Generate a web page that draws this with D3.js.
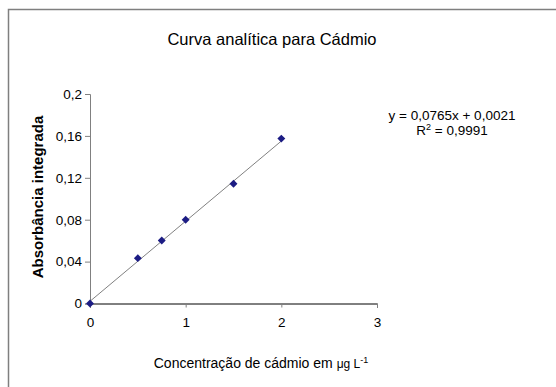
<!DOCTYPE html>
<html>
<head>
<meta charset="utf-8">
<script src="https://cdn.jsdelivr.net/npm/d3@7"></script>
<style>
  html, body { margin: 0; padding: 0; background: #fff; }
  svg { display: block; font-family: "Liberation Sans", Arial, sans-serif; }
</style>
</head>
<body>
<svg id="chart" width="556" height="387"></svg>
<script>
// Calibration data for cadmium
const concentrations = [0, 0.5, 0.75, 1, 1.5, 2];
const absorbances = [0, 0.0433, 0.0601, 0.0799, 0.1144, 0.1574];
const xTicks = [0, 1, 2, 3];
const yTicks = [0, 0.04, 0.08, 0.12, 0.16, 0.2];
const fitSlope = 0.0765;
const fitIntercept = 0.0021;
const fitLabel = "y = 0,0765x + 0,0021";
const r2Value = "0,9991";

const svg = d3.select("#chart");
const W = 556, H = 387;

// Chart area frame
svg.append("rect")
  .attr("x", 8.5).attr("y", 9.5)
  .attr("width", W + 10).attr("height", H + 10)
  .attr("fill", "#fff")
  .attr("stroke", "#7f7f7f").attr("stroke-width", 1.5);

const x = d3.scaleLinear().domain([0, 3]).range([90, 377]);
const y = d3.scaleLinear().domain([0, 0.2]).range([303.5, 94]);

const fmt = d => d === 0 ? "0" : String(d).replace(".", ",");

// Y axis
const yAxis = svg.append("g")
  .attr("transform", "translate(90,0)")
  .call(d3.axisLeft(y).tickValues(yTicks).tickSize(5).tickPadding(3).tickFormat(fmt));
yAxis.select(".domain").attr("stroke", "#808080");
yAxis.selectAll(".tick line").attr("stroke", "#808080");
yAxis.selectAll("text").attr("font-size", 13.5).attr("fill", "#000")
  .attr("font-family", "Liberation Sans, Arial, sans-serif");

// X axis
const xAxis = svg.append("g")
  .attr("transform", "translate(0,303.5)")
  .call(d3.axisBottom(x).tickValues(xTicks).tickSize(4).tickPadding(10).tickFormat(fmt));
xAxis.select(".domain").attr("stroke", "#000");
xAxis.selectAll(".tick line").attr("stroke", "#808080");
xAxis.selectAll("text").attr("font-size", 13.5).attr("fill", "#000")
  .attr("font-family", "Liberation Sans, Arial, sans-serif");

// Linear trendline
const xMin = d3.min(concentrations), xMax = d3.max(concentrations);
svg.append("line")
  .attr("x1", x(xMin)).attr("y1", y(fitSlope * xMin + fitIntercept))
  .attr("x2", x(xMax)).attr("y2", y(fitSlope * xMax + fitIntercept))
  .attr("stroke", "#808080").attr("stroke-width", 1);

// Data markers (diamonds)
const diamond = d3.symbol().type(d3.symbolDiamond2).size(40);
svg.append("g").selectAll("path")
  .data(concentrations.map((c, i) => [c, absorbances[i]]))
  .join("path")
  .attr("d", diamond)
  .attr("transform", d => `translate(${x(d[0])},${y(d[1])})`)
  .attr("fill", "#1c1c84");

// Title
svg.append("text")
  .attr("x", 272).attr("y", 45)
  .attr("text-anchor", "middle")
  .attr("font-size", 16.5)
  .text("Curva analítica para Cádmio");

// Y axis title
svg.append("text")
  .attr("transform", "translate(43,197) rotate(-90)")
  .attr("text-anchor", "middle")
  .attr("font-size", 15).attr("font-weight", "bold")
  .text("Absorbância integrada");

// X axis title
const xt = svg.append("text")
  .attr("x", 261).attr("y", 368)
  .attr("text-anchor", "middle")
  .attr("font-size", 14);
xt.append("tspan").text("Concentração de cádmio em ");
xt.append("tspan").attr("font-size", 12).text("μg L");
xt.append("tspan").attr("font-size", 9).attr("dy", -5).text("-1");

// Regression equation
svg.append("text")
  .attr("x", 452).attr("y", 120)
  .attr("text-anchor", "middle")
  .attr("font-size", 13.5)
  .text(fitLabel);
const r2 = svg.append("text")
  .attr("x", 452).attr("y", 135)
  .attr("text-anchor", "middle")
  .attr("font-size", 13.5);
r2.append("tspan").text("R");
r2.append("tspan").attr("font-size", 9).attr("dy", -5).text("2");
r2.append("tspan").attr("dy", 5).text(" = " + r2Value);
</script>
</body>
</html>
